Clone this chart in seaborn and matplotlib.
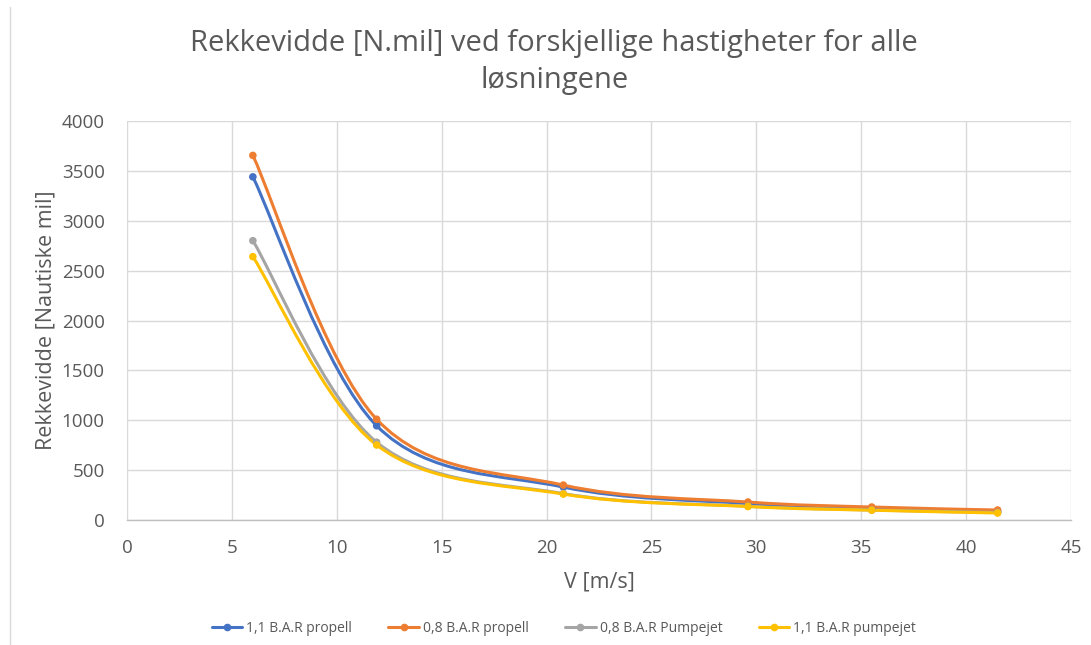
import numpy as np
import pandas as pd
import matplotlib
matplotlib.use("Agg")
import matplotlib.pyplot as plt
from matplotlib.path import Path
from matplotlib.patches import PathPatch
from matplotlib.lines import Line2D
import seaborn as sns

# Speeds [m/s]
speed = [6.0, 11.9, 20.8, 29.6, 35.5, 41.5]

# Range [nautical miles] per solution
prop_11 = [3440, 945, 330, 165, 115, 85]
prop_08 = [3655, 1010, 350, 180, 130, 100]
jet_08 = [2800, 780, 265, 138, 100, 75]
jet_11 = [2640, 752, 260, 135, 98, 70]

series_names = ["1,1 B.A.R propell", "0,8 B.A.R propell",
                "0,8 B.A.R Pumpejet", "1,1 B.A.R pumpejet"]
series_values = [prop_11, prop_08, jet_08, jet_11]
colors = ["#4472C4", "#ED7D31", "#A5A5A5", "#FFC000"]

x_ticks = list(range(0, 50, 5))
y_ticks = list(range(0, 4500, 500))

rows = []
for name, vals in zip(series_names, series_values):
    for v, r in zip(speed, vals):
        rows.append({"V": v, "range": r, "series": name})
df = pd.DataFrame(rows)

sns.set_theme(style="white")
plt.rcParams["font.family"] = ["Open Sans", "DejaVu Sans"]

fig = plt.figure(figsize=(10.91, 6.45), dpi=100)
ax = fig.add_axes([0.1164, 0.1938, 0.8653, 0.6186])


def smooth_path(xs, ys, k=1.0 / 6.0):
    """Cubic Bezier path through the points (Catmull-Rom style smoothing)."""
    pts = np.column_stack([xs, ys]).astype(float)
    n = len(pts)
    verts = [pts[0]]
    codes = [Path.MOVETO]
    for i in range(n - 1):
        p0 = pts[i - 1] if i > 0 else pts[i]
        p1 = pts[i]
        p2 = pts[i + 1]
        p3 = pts[i + 2] if i + 2 < n else pts[i + 1]
        c1 = p1 + (p2 - p0) * k
        c2 = p2 - (p3 - p1) * k
        verts += [c1, c2, p2]
        codes += [Path.CURVE4] * 3
    return Path(verts, codes)


for name, col in zip(series_names, colors):
    sub = df[df["series"] == name]
    path = smooth_path(sub["V"].values, sub["range"].values)
    ax.add_patch(PathPatch(path, facecolor="none", edgecolor=col,
                           lw=2.2, zorder=3, capstyle="round"))

sns.scatterplot(data=df, x="V", y="range", hue="series",
                hue_order=series_names, palette=colors, s=30,
                edgecolor="none", legend=False, ax=ax, zorder=4)

ax.set_xlim(0, 45)
ax.set_ylim(0, 4000)
ax.set_xticks(x_ticks)
ax.set_yticks(y_ticks)
ax.grid(True, color="#D9D9D9", lw=1.0)
ax.set_axisbelow(True)
for side in ["top", "right", "left"]:
    ax.spines[side].set_visible(False)
ax.spines["bottom"].set_color("#BFBFBF")
ax.spines["bottom"].set_linewidth(1.0)
ax.tick_params(axis="both", length=0, labelsize=13.5, labelcolor="#595959")
ax.tick_params(axis="y", pad=16)
ax.tick_params(axis="x", pad=14)

ax.set_xlabel("V [m/s]", fontsize=15.5, color="#595959", labelpad=10)
ax.set_ylabel("Rekkevidde [Nautiske mil]", fontsize=15.5, color="#595959", labelpad=4)

fig.text(0.508, 0.904, "Rekkevidde [N.mil] ved forskjellige hastigheter for alle\nløsningene",
         ha="center", va="center", fontsize=21, color="#595959", linespacing=1.4)

# thin chart-area border on the left
fig.add_artist(Line2D([9.5 / 1091, 9.5 / 1091], [0, 1 - 7 / 645],
                      transform=fig.transFigure, color="#D9D9D9", lw=1.0))

handles = [Line2D([0], [0], color=c, lw=2.2, marker="o", markersize=4.5)
           for c in colors]
fig.legend(handles, series_names, loc="center", bbox_to_anchor=(0.517, 0.026),
           ncol=4, frameon=False, fontsize=10, handlelength=2.2,
           handletextpad=0.3, columnspacing=2.6, labelcolor="#595959")

fig.savefig("out.png", dpi=100, facecolor="white")
